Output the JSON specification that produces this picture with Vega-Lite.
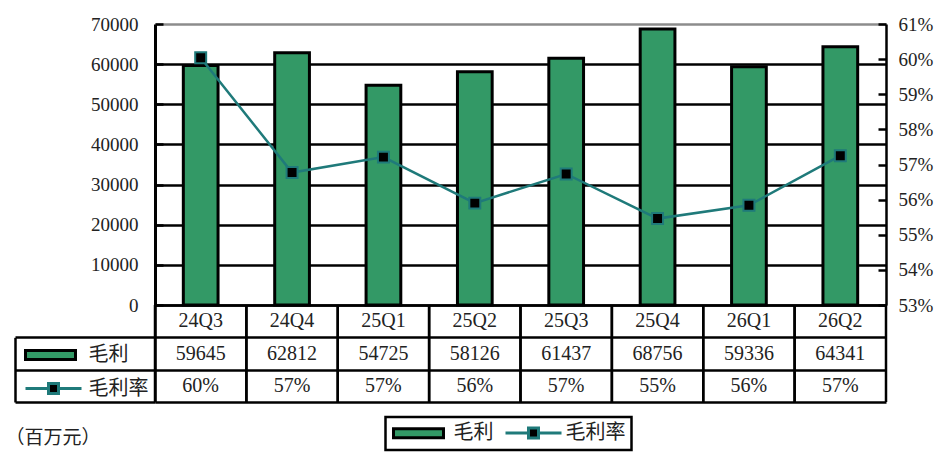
{
  "$schema": "https://vega.github.io/schema/vega-lite/v6.json",
  "width": 731,
  "height": 281,
  "autosize": "none",
  "padding": {"left": 155, "top": 24, "right": 58, "bottom": 159},
  "background": "white",
  "config": {
    "view": {"stroke": null},
    "axis": {"labelFont": "Liberation Serif", "labelFontSize": 19, "labelColor": "#222222"}
  },
  "data": {
    "values": [
      {"period": "24Q3", "gp": 59645, "gm": 0.6004},
      {"period": "24Q4", "gp": 62812, "gm": 0.5677},
      {"period": "25Q1", "gp": 54725, "gm": 0.5721},
      {"period": "25Q2", "gp": 58126, "gm": 0.5590},
      {"period": "25Q3", "gp": 61437, "gm": 0.5673},
      {"period": "25Q4", "gp": 68756, "gm": 0.5546},
      {"period": "26Q1", "gp": 59336, "gm": 0.5584},
      {"period": "26Q2", "gp": 64341, "gm": 0.5725}
    ]
  },
  "resolve": {
    "scale": {"y": "independent", "fill": "independent", "stroke": "independent", "shape": "independent"}
  },
  "layer": [
    {
      "mark": {"type": "bar", "width": {"band": 0.38}, "fill": "#339966", "stroke": "black", "strokeWidth": 3},
      "encoding": {
        "x": {
          "field": "period", "type": "ordinal", "sort": null,
          "scale": {"paddingInner": 0, "paddingOuter": 0},
          "axis": null
        },
        "y": {
          "field": "gp", "type": "quantitative",
          "scale": {"domain": [0, 70000], "nice": false},
          "axis": {
            "orient": "left",
            "values": [0, 10000, 20000, 30000, 40000, 50000, 60000, 70000],
            "format": "d",
            "grid": true,
            "gridColor": {"condition": {"test": "datum.value === 70000", "value": "#8c8c8c"}, "value": "black"},
            "gridWidth": 2.5,
            "domainColor": "black",
            "domainWidth": 3,
            "ticks": true,
            "tickSize": -8,
            "tickColor": "black",
            "tickWidth": 2.5,
            "labelPadding": 25,
            "title": "（百万元）",
            "titleAngle": 0,
            "titleX": -150,
            "titleY": 413,
            "titleAlign": "left",
            "titleBaseline": "middle",
            "titleFont": "Noto Sans CJK SC",
            "titleFontSize": 19,
            "titleFontWeight": "normal",
            "titleColor": "#222222"
          }
        }
      }
    },
    {
      "encoding": {
        "x": {"field": "period", "type": "ordinal", "sort": null},
        "y": {
          "field": "gm", "type": "quantitative",
          "scale": {"domain": [0.53, 0.61], "nice": false},
          "axis": {
            "orient": "right",
            "values": [0.53, 0.54, 0.55, 0.56, 0.57, 0.58, 0.59, 0.6, 0.61],
            "format": ".0%",
            "grid": false,
            "domainColor": "black",
            "domainWidth": 2.5,
            "tickSize": -8,
            "tickColor": "black",
            "tickWidth": 2.5,
            "labelPadding": 20,
            "title": null
          }
        }
      },
      "layer": [
        {"mark": {"type": "line", "stroke": "#1f7a7a", "strokeWidth": 2.5}},
        {"mark": {"type": "point", "shape": "square", "size": 120, "filled": true, "fill": "black", "stroke": "#1f7a7a", "strokeWidth": 2, "opacity": 1}}
      ]
    },
    {
      "encoding": {
        "x": {"field": "period", "type": "ordinal", "sort": null}
      },
      "layer": [
        {
          "mark": {"type": "rule", "stroke": "black", "strokeWidth": 2.5},
          "encoding": {
            "x": {"field": "period", "type": "ordinal", "sort": null, "bandPosition": 0},
            "y": {
              "datum": 0, "type": "quantitative",
              "scale": {"domain": [0, 3], "range": [281, 378], "nice": false, "zero": false},
              "axis": {
                "orient": "left",
                "values": [0, 1, 2, 3],
                "grid": true,
                "gridColor": "black",
                "gridWidth": 2.5,
                "domain": true,
                "domainColor": "black",
                "domainWidth": 2.5,
                "ticks": true,
                "tickSize": 140,
                "tickWidth": 2.5,
                "tickColor": {"condition": {"test": "datum.value === 0", "value": "transparent"}, "value": "black"},
                "labels": false,
                "title": null
              }
            },
            "y2": {"datum": 3}
          }
        },
        {
          "mark": {"type": "rule", "stroke": "black", "strokeWidth": 2.5},
          "encoding": {
            "x": {"field": "period", "type": "ordinal", "sort": null, "bandPosition": 1},
            "y": {"datum": 0, "type": "quantitative"},
            "y2": {"datum": 3}
          }
        },
        {
          "mark": {"type": "text", "font": "Liberation Serif", "fontSize": 20, "color": "#222222", "baseline": "middle"},
          "encoding": {
            "y": {"datum": 0.5, "type": "quantitative"},
            "text": {"field": "period"}
          }
        },
        {
          "mark": {"type": "text", "font": "Liberation Serif", "fontSize": 20, "color": "#222222", "baseline": "middle"},
          "encoding": {
            "y": {"datum": 1.5, "type": "quantitative"},
            "text": {"field": "gp", "type": "quantitative", "format": "d"}
          }
        },
        {
          "mark": {"type": "text", "font": "Liberation Serif", "fontSize": 20, "color": "#222222", "baseline": "middle"},
          "encoding": {
            "y": {"datum": 2.5, "type": "quantitative"},
            "text": {"field": "gm", "type": "quantitative", "format": ".0%"}
          }
        }
      ]
    },
    {
      "data": {"values": [{"row": "gp"}, {"row": "gm"}]},
      "mark": {"type": "point", "filled": true, "opacity": 0},
      "encoding": {
        "y": {
          "datum": 2, "type": "quantitative",
          "scale": {"domain": [1, 3], "range": [313.33, 378], "nice": false, "zero": false},
          "axis": {
            "orient": "left", "offset": 140, "domain": true, "domainColor": "black", "domainWidth": 2.5,
            "ticks": false, "labels": false, "grid": false, "title": null
          }
        },
        "fill": {
          "field": "row", "type": "nominal",
          "scale": {"domain": ["gp", "gm"], "range": ["#339966", "black"]},
          "legend": {
            "title": null, "orient": "none", "direction": "vertical", "legendX": -131.5, "legendY": 321,
            "padding": 0, "labelFont": "Noto Sans CJK SC", "labelFontSize": 20, "labelColor": "#222222",
            "labelExpr": "datum.value == 'gp' ? '毛利' : '毛利率'", "symbolOpacity": 1,
            "symbolSize": 256, "symbolStrokeWidth": 3, "labelOffset": 45, "rowPadding": 11.5
          }
        },
        "stroke": {
          "field": "row", "type": "nominal",
          "scale": {"domain": ["gp", "gm"], "range": ["black", "#1f7a7a"]},
          "legend": {
            "title": null, "orient": "none", "direction": "vertical", "legendX": -131.5, "legendY": 321,
            "padding": 0, "labelFont": "Noto Sans CJK SC", "labelFontSize": 20, "labelColor": "#222222",
            "labelExpr": "datum.value == 'gp' ? '毛利' : '毛利率'", "symbolOpacity": 1,
            "symbolSize": 256, "symbolStrokeWidth": 3, "labelOffset": 45, "rowPadding": 11.5
          }
        },
        "shape": {
          "field": "row", "type": "nominal",
          "scale": {"domain": ["gp", "gm"], "range": ["M-1,-0.56H5.25V0.56H-1Z", "M-1,0H1.875M3.125,0H6M1.875,-0.625H3.125V0.625H1.875Z"]},
          "legend": {
            "title": null, "orient": "none", "direction": "vertical", "legendX": -131.5, "legendY": 321,
            "padding": 0, "labelFont": "Noto Sans CJK SC", "labelFontSize": 20, "labelColor": "#222222",
            "labelExpr": "datum.value == 'gp' ? '毛利' : '毛利率'", "symbolOpacity": 1,
            "symbolSize": 256, "symbolStrokeWidth": 3, "labelOffset": 45, "rowPadding": 11.5
          }
        }
      }
    },
    {
      "data": {"values": [{"item": "毛利"}, {"item": "毛利率"}]},
      "mark": {"type": "point", "filled": true, "opacity": 0},
      "encoding": {
        "fill": {
          "field": "item", "type": "nominal",
          "scale": {"domain": ["毛利", "毛利率"], "range": ["#339966", "black"]},
          "legend": {
            "title": null, "orient": "none", "direction": "horizontal", "legendX": 230.5, "legendY": 393,
            "padding": 6, "strokeColor": "black", "fillColor": "white", "labelFont": "Noto Sans CJK SC", "labelFontSize": 20,
            "labelColor": "#222222", "symbolSize": 256, "symbolStrokeWidth": 3, "labelOffset": 42, "symbolOpacity": 1,
            "columnPadding": 6, "encode": {"legend": {"update": {"strokeWidth": {"value": 2.5}}}}
          }
        },
        "stroke": {
          "field": "item", "type": "nominal",
          "scale": {"domain": ["毛利", "毛利率"], "range": ["black", "#1f7a7a"]},
          "legend": {
            "title": null, "orient": "none", "direction": "horizontal", "legendX": 230.5, "legendY": 393,
            "padding": 6, "strokeColor": "black", "fillColor": "white", "labelFont": "Noto Sans CJK SC", "labelFontSize": 20,
            "labelColor": "#222222", "symbolSize": 256, "symbolStrokeWidth": 3, "labelOffset": 42, "symbolOpacity": 1,
            "columnPadding": 6, "encode": {"legend": {"update": {"strokeWidth": {"value": 2.5}}}}
          }
        },
        "shape": {
          "field": "item", "type": "nominal",
          "scale": {"domain": ["毛利", "毛利率"], "range": ["M-1,-0.56H5.25V0.56H-1Z", "M-1,0H1.875M3.125,0H6M1.875,-0.625H3.125V0.625H1.875Z"]},
          "legend": {
            "title": null, "orient": "none", "direction": "horizontal", "legendX": 230.5, "legendY": 393,
            "padding": 6, "strokeColor": "black", "fillColor": "white", "labelFont": "Noto Sans CJK SC", "labelFontSize": 20,
            "labelColor": "#222222", "symbolSize": 256, "symbolStrokeWidth": 3, "labelOffset": 42, "symbolOpacity": 1,
            "columnPadding": 6, "encode": {"legend": {"update": {"strokeWidth": {"value": 2.5}}}}
          }
        }
      }
    }
  ]
}
